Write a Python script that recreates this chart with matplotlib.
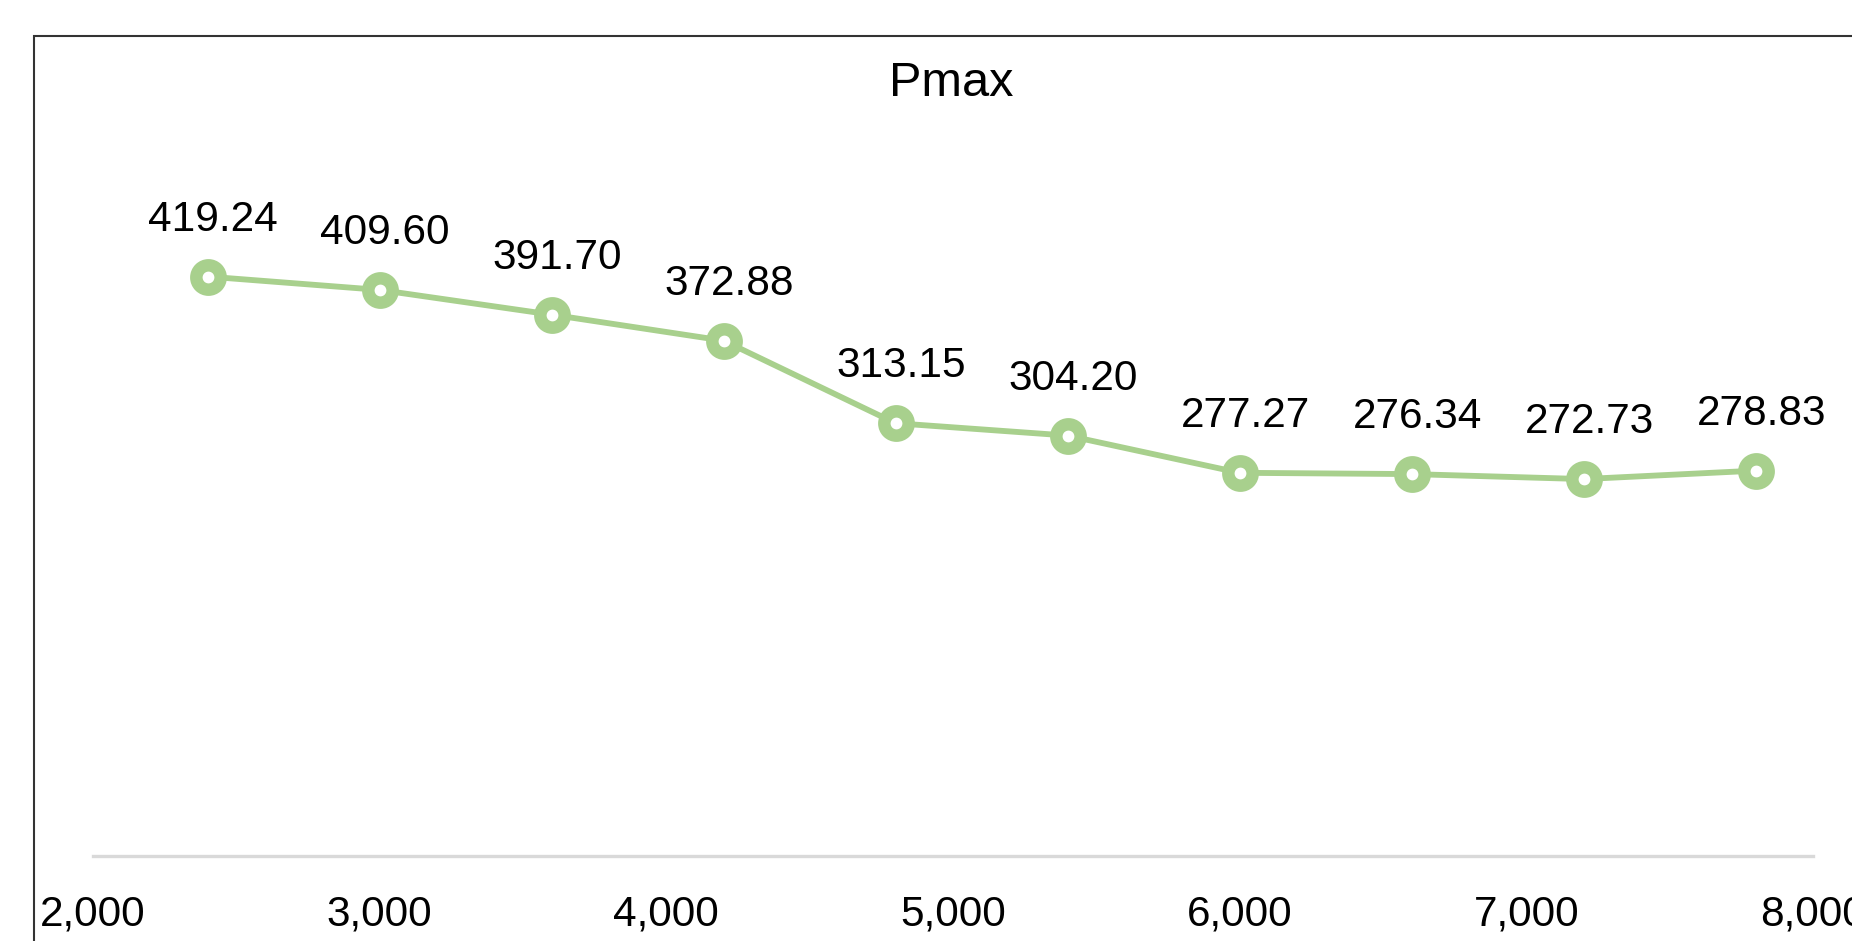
"""Pmax vs. speed: single line series with value labels."""

import matplotlib.pyplot as plt
from matplotlib.patches import Rectangle
from matplotlib.ticker import FuncFormatter

speed = [2400, 3000, 3600, 4200, 4800, 5400, 6000, 6600, 7200, 7800]
pmax = [419.24, 409.60, 391.70, 372.88, 313.15, 304.20,
        277.27, 276.34, 272.73, 278.83]
x_ticks = [2000, 3000, 4000, 5000, 6000, 7000, 8000]

GREEN = "#A8D08D"
FONT = "Liberation Sans"

plt.rcParams["font.family"] = [FONT, "DejaVu Sans"]

fig = plt.figure(figsize=(18.52, 9.41), dpi=100)
ax = fig.add_axes([0.0502, 0.0903, 0.9287, 0.7344])

ax.plot(speed, pmax, color=GREEN, lw=4.2, marker="o", ms=17.5,
        mew=9, mec=GREEN, mfc="white", solid_capstyle="round", zorder=3)

for x, y in zip(speed, pmax):
    ax.annotate(f"{y:.2f}", (x, y), xytext=(4, 41), textcoords="offset points",
                ha="center", va="center", fontsize=30.5, color="black")

ax.set_xlim(2000, 8000)
ax.set_ylim(0, 500)
ax.set_xticks(x_ticks)
ax.xaxis.set_major_formatter(FuncFormatter(lambda v, _: f"{v:,.0f}"))
ax.tick_params(axis="x", length=0, pad=28, labelsize=30.5)
ax.set_yticks([])
for side in ("top", "left", "right"):
    ax.spines[side].set_visible(False)
ax.spines["bottom"].set_color("#D9D9D9")
ax.spines["bottom"].set_linewidth(2.4)

fig.text(951 / 1852, 1 - 83 / 941, "Pmax", ha="center", va="center",
         fontsize=35, color="black")

# chart frame (left and top edges inside the canvas)
fig.patches.append(Rectangle((34 / 1852, -0.2), 1.5, 0.2 + 1 - 36 / 941,
                             transform=fig.transFigure, fill=False,
                             edgecolor="#333333", lw=1.5, zorder=0))

fig.savefig("out.png", dpi=100)
